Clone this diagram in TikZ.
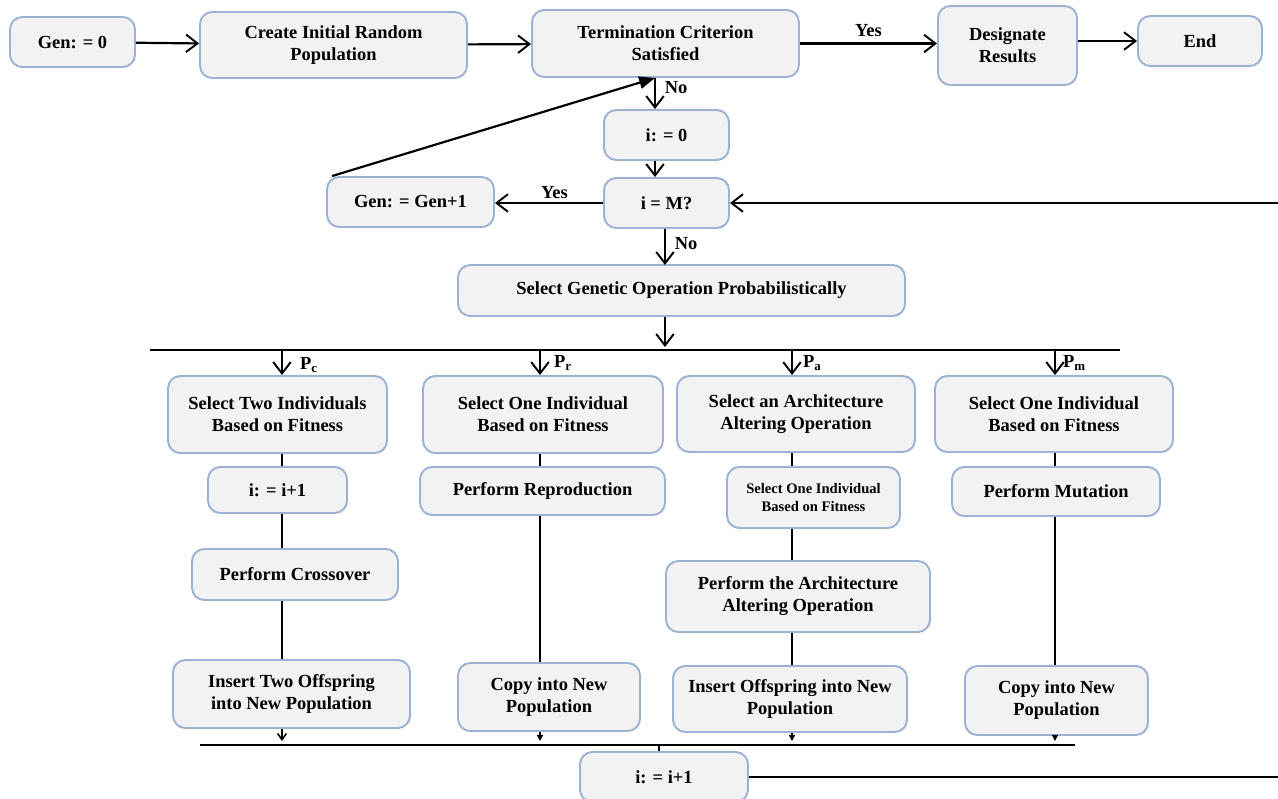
\documentclass[tikz,border=0pt]{standalone}
\usepackage{fontspec}
\setmainfont{Liberation Serif}
\usetikzlibrary{arrows.meta,calc}
\begin{document}
\begin{tikzpicture}[x=0.02cm,y=-0.02cm,
  box/.style={draw=boxblue,fill=boxfill,rounded corners=7pt,line width=1.1pt,align=center,
     font=\fontsize{10.5}{12.5}\selectfont\bfseries,inner sep=1pt},
  sz/.style 2 args={minimum width=#1*0.02cm,minimum height=#2*0.02cm},
  ln/.style={line width=1.25pt,black},
  arr/.style={ln,-{Straight Barb[length=6.5pt,width=10pt,line width=1.1pt]}},
  farr/.style={ln,-{Triangle[length=9pt,width=7pt]}},
  sarr/.style={ln,-{Triangle[length=3.5pt,width=3.5pt]}},
  sbarr/.style={ln,-{Straight Barb[length=3.5pt,width=5pt,line width=0.9pt]}},
  lbl/.style={font=\fontsize{10.5}{12}\selectfont\bfseries,inner sep=1pt}]
\definecolor{boxblue}{HTML}{9CB2D4}
\definecolor{boxfill}{HTML}{F2F2F2}
\useasboundingbox (0,0) rectangle (1278,798);
% top row
\node[box,sz={125}{50}] (gen0) at (72.5,42) {Gen: = 0};
\node[box,sz={267}{66}] (init) at (333.5,45) {Create Initial Random\\Population};
\node[box,sz={267}{67}] (term) at (665.5,43.5) {Termination Criterion\\Satisfied};
\node[box,sz={139}{79}] (des) at (1007.5,45.5) {Designate\\Results};
\node[box,sz={124}{50}] (end) at (1200,41) {End};
\node[box,sz={125}{50}] (i0) at (666.5,135) {i: = 0};
\node[box,sz={125}{50}] (iM) at (666.5,203) {i = M?};
\node[box,sz={167}{50}] (gen1) at (410.5,202) {Gen: = Gen+1};
\node[box,sz={447}{51}] (sgo) at (681.5,290.5) {Select Genetic Operation Probabilistically};
% columns
\node[box,sz={219}{77}] (c1a) at (277.5,414.5) {Select Two Individuals\\Based on Fitness};
\node[box,sz={139}{46}] (c1b) at (277.5,490) {i: = i+1};
\node[box,sz={206}{51}] (c1c) at (295,574.5) {Perform Crossover};
\node[box,sz={237}{68}] (c1d) at (291.5,694) {Insert Two Offspring\\into New Population};
\node[box,sz={240}{77}] (c2a) at (543,414.5) {Select One Individual\\Based on Fitness};
\node[box,sz={245}{48}] (c2b) at (542.5,491) {Perform Reproduction};
\node[box,sz={182}{68}] (c2d) at (549,697) {Copy into New\\Population};
\node[box,sz={238}{76}] (c3a) at (796,414) {Select an Architecture\\Altering Operation};
\node[box,sz={173}{61},font=\fontsize{8.3}{10}\selectfont\bfseries] (c3b) at (813.5,497.5) {Select One Individual\\Based on Fitness};
\node[box,sz={264}{71}] (c3c) at (798,596.5) {Perform the Architecture\\Altering Operation};
\node[box,sz={234}{66}] (c3d) at (790,699) {Insert Offspring into New\\Population};
\node[box,sz={238}{76}] (c4a) at (1054,414) {Select One Individual\\Based on Fitness};
\node[box,sz={208}{49}] (c4b) at (1056,491.5) {Perform Mutation};
\node[box,sz={183}{69}] (c4d) at (1056.5,700.5) {Copy into New\\Population};
\node[box,sz={168}{50}] (ii) at (664,777) {i: = i+1};
% coordinates
\coordinate (xa) at (655,0);
\coordinate (xb) at (665,0);
\coordinate (k1) at (282,0);
\coordinate (k2) at (540,0);
\coordinate (k3) at (792,0);
\coordinate (k4) at (1055,0);
\coordinate (bl) at (150,350);
\coordinate (br) at (1120,350);
\coordinate (jl) at (200,745);
\coordinate (jr) at (1075,745);
\coordinate (jm) at (659,745);
\coordinate (rx) at (1290,0);
% top connectors
\draw[arr] (gen0) -- (init);
\draw[arr] (init) -- (term);
\draw[arr] (term.east) -- node[lbl,above=2pt,pos=0.5]{Yes} (term.east -| des.west);
\draw[arr] (des.east |- end) -- (end.west);
\draw[arr] (term.south -| xa) -- node[lbl,right=4pt,pos=0.3]{No} (i0.north -| xa);
\draw[arr] (i0.south -| xa) -- (iM.north -| xa);
\draw[arr] (iM.west) -- node[lbl,above=1pt,pos=0.45]{Yes} (iM.west -| gen1.east);
\draw[farr] ($(gen1.north west)+(6,0)$) -- (term.south -| xa);
\draw[arr] (iM.south -| xb) -- node[lbl,right=4pt,pos=0.4]{No} ($(iM.south -| xb)+(0,36)$);
\draw[arr] (sgo.south -| xb) -- ($(bl -| xb)+(0,-3)$);
\draw[ln] (bl) -- (br);
% branches
\draw[arr] (bl -| k1) -- (c1a.north -| k1);
\draw[arr] (bl -| k2) -- (c2a.north -| k2);
\draw[arr] (bl -| k3) -- (c3a.north -| k3);
\draw[arr] (bl -| k4) -- (c4a.north -| k4);
\node[lbl,anchor=west] (pc) at ($(bl -| k1)+(16,15)$) {P\textsubscript{c}};
\node[lbl,anchor=west] (pr) at ($(bl -| k2)+(12,13)$) {P\textsubscript{r}};
\node[lbl,anchor=west] (pa) at ($(bl -| k3)+(9,13)$) {P\textsubscript{a}};
\node[lbl,anchor=west] (pm) at ($(bl -| k4)+(6,13)$) {P\textsubscript{m}};
% column lines
\draw[ln] (c1a.south -| k1) -- (c1b.north -| k1);
\draw[ln] (c1b.south -| k1) -- (c1c.north -| k1);
\draw[ln] (c1c.south -| k1) -- (c1d.north -| k1);
\draw[ln] (c2a.south -| k2) -- (c2b.north -| k2);
\draw[ln] (c2b.south -| k2) -- (c2d.north -| k2);
\draw[ln] (c3a.south -| k3) -- (c3b.north -| k3);
\draw[ln] (c3b.south -| k3) -- (c3c.north -| k3);
\draw[ln] (c3c.south -| k3) -- (c3d.north -| k3);
\draw[ln] (c4a.south -| k4) -- (c4b.north -| k4);
\draw[ln] (c4b.south -| k4) -- (c4d.north -| k4);
% bottom join
\draw[sbarr] (c1d.south -| k1) -- ($(jl -| k1)+(0,-4)$);
\draw[sarr] (c2d.south -| k2) -- ($(jl -| k2)+(0,-4)$);
\draw[sarr] (c3d.south -| k3) -- ($(jl -| k3)+(0,-4)$);
\draw[sarr] (c4d.south -| k4) -- ($(jl -| k4)+(0,-4)$);
\draw[ln] (jl) -- (jr);
\draw[ln] (jm) -- (ii.north -| jm);
\draw[arr] (ii.east) -- (ii.east -| rx) |- (iM.east);
\end{tikzpicture}
\end{document}
